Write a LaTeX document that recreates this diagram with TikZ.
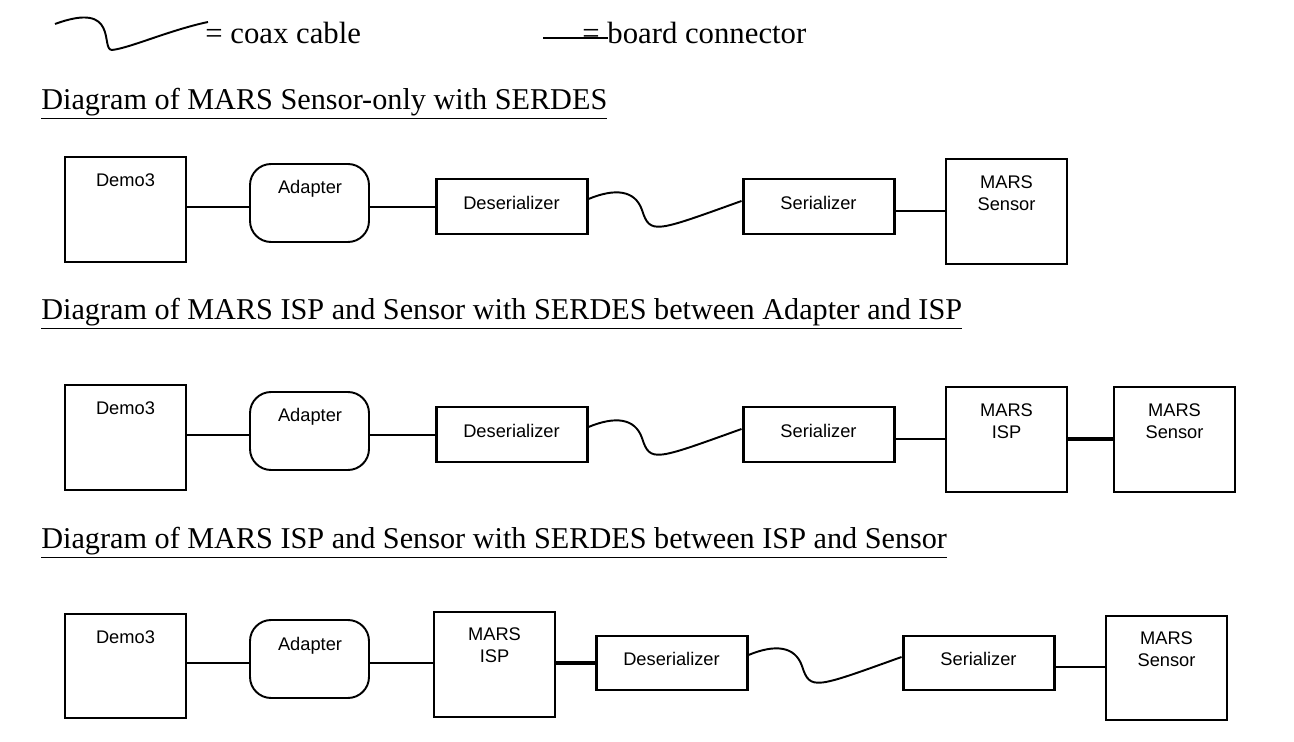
\documentclass[tikz,border=0pt]{standalone}
\usepackage{fontspec}
\setmainfont{Liberation Serif}
\newfontfamily\boxfont{Liberation Sans}
\begin{document}
\begin{tikzpicture}[x=0.02cm,y=-0.02cm,
  box/.style={draw,line width=1.1pt,inner sep=0pt,align=center},
  tbox/.style={box,line width=1.7pt},
  wire/.style={line width=1.1pt},
  bwire/.style={line width=2pt},
  boxtext/.style={font=\boxfont\fontsize{10.4}{12.5}\selectfont,align=center,inner sep=0pt},
  title/.style={anchor=west,inner sep=0pt,font=\fontsize{17.2}{20}\selectfont},
  legend/.style={anchor=west,inner sep=0pt,font=\fontsize{17.5}{20}\selectfont}]
\useasboundingbox (0,0) rectangle (1294,742);
% box: name, x1, y1, x2, y2, style, text, text y
\newcommand\bx[8]{%
  \node[#6,minimum width={(#4-#2)*0.02cm},minimum height={(#5-#3)*0.02cm}] (#1) at ({(#2+#4)/2},{(#3+#5)/2}) {};
  \node[boxtext] (#1t) at ({(#2+#4)/2},#8) {#7};}
% adapter: name, y1, y2, text y
\newcommand\adp[4]{%
  \node[box,rounded corners=12pt,minimum width=2.38cm,minimum height={(#3-#2)*0.02cm}] (#1) at (309.5,{(#2+#3)/2}) {};
  \node[boxtext] (#1t) at (310,#4) {Adapter};}
% legend
\draw[wire] (55,24) .. controls (120,0) and (100,50) .. (112,50) .. controls (130,48) and (170,30) .. (208,22);
\node[legend] (lc) at (205,33) {= coax cable};
\draw[wire] (543,38) -- (608,38);
\node[legend] (lb) at (582,33) {= board connector};
% titles
\node[title] (t1) at (41,104) {\underline{Diagram of MARS Sensor-only with SERDES}};
\node[title] (t2) at (41,314) {\underline{Diagram of MARS ISP and Sensor with SERDES between Adapter and ISP}};
\node[title] (t3) at (41,543) {\underline{Diagram of MARS ISP and Sensor with SERDES between ISP and Sensor}};
% row 1
\bx{a1}{65}{157}{186}{262}{box}{Demo3}{180}
\adp{b1}{164}{242}{189}
\bx{c1}{436}{179}{587}{234}{tbox}{Deserializer}{203}
\bx{d1}{743}{179}{894}{234}{tbox}{Serializer}{203}
\bx{e1}{946}{159}{1067}{264}{box}{MARS\\Sensor}{193}
\draw[wire] (a1.east |- 0,207) -- (b1.west |- 0,207);
\draw[wire] (b1.east |- 0,207) -- (c1.west |- 0,207);
\draw[wire] (c1.east |- 0,199) .. controls (615,188) and (635,190) .. (642,210) .. controls (650,235) and (655,232) .. (d1.west |- 0,201);
\draw[wire] (d1.east |- 0,211) -- (e1.west |- 0,211);
% row 2
\bx{a2}{65}{385}{186}{490}{box}{Demo3}{408}
\adp{b2}{392}{470}{417}
\bx{c2}{436}{407}{587}{462}{tbox}{Deserializer}{431}
\bx{d2}{743}{407}{894}{462}{tbox}{Serializer}{431}
\bx{e2}{946}{387}{1067}{492}{box}{MARS\\ISP}{421}
\bx{f2}{1114}{387}{1235}{492}{box}{MARS\\Sensor}{421}
\draw[wire] (a2.east |- 0,435) -- (b2.west |- 0,435);
\draw[wire] (b2.east |- 0,435) -- (c2.west |- 0,435);
\draw[wire] (c2.east |- 0,427) .. controls (615,416) and (635,418) .. (642,438) .. controls (650,463) and (655,460) .. (d2.west |- 0,429);
\draw[wire] (d2.east |- 0,439) -- (e2.west |- 0,439);
\draw[bwire] (e2.east |- 0,439) -- (f2.west |- 0,439);
% row 3
\bx{a3}{65}{614}{186}{718}{box}{Demo3}{637}
\adp{b3}{620}{698}{646}
\bx{c3}{434}{612}{555}{717}{box}{MARS\\ISP}{645}
\bx{d3}{596}{636}{747}{690}{tbox}{Deserializer}{659}
\bx{e3}{903}{636}{1054}{690}{tbox}{Serializer}{659}
\bx{f3}{1106}{616}{1227}{720}{box}{MARS\\Sensor}{649}
\draw[wire] (a3.east |- 0,663) -- (b3.west |- 0,663);
\draw[wire] (b3.east |- 0,663) -- (c3.west |- 0,663);
\draw[bwire] (c3.east |- 0,663) -- (d3.west |- 0,663);
\draw[wire] (d3.east |- 0,655) .. controls (775,644) and (795,646) .. (802,666) .. controls (810,691) and (815,688) .. (e3.west |- 0,657);
\draw[wire] (e3.east |- 0,667) -- (f3.west |- 0,667);
\end{tikzpicture}
\end{document}
